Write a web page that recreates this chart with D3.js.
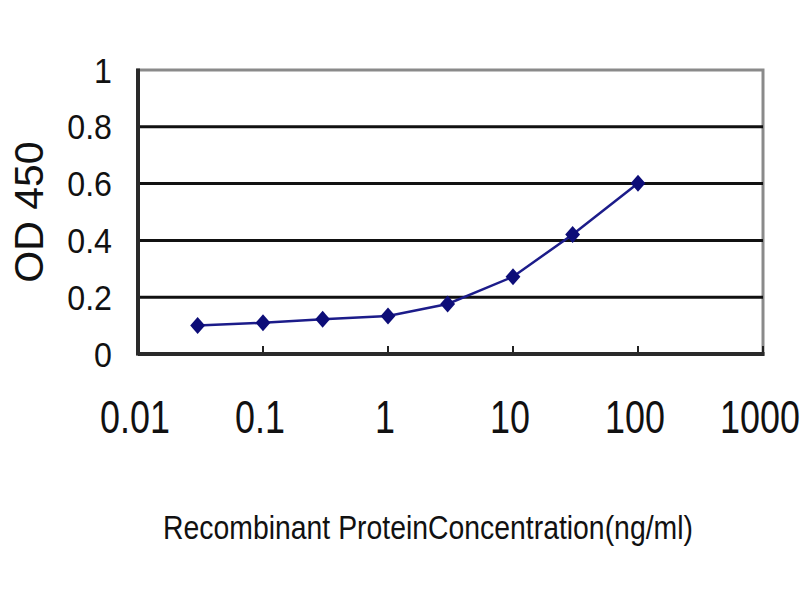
<!DOCTYPE html>
<html>
<head>
<meta charset="utf-8">
<script src="https://cdn.jsdelivr.net/npm/d3@7.9.0/dist/d3.min.js"></script>
<style>
  body { margin: 0; background: #fff; }
  text { font-family: 'Liberation Sans', Arial, sans-serif; fill: #111; }
</style>
</head>
<body>
<div id="chart"></div>
<script>
// concentration (ng/ml) and OD 450 readings
const concentrations = [0.03, 0.1, 0.3, 1, 3, 10, 30, 100];
const odValues = [0.10, 0.11, 0.122, 0.134, 0.176, 0.272, 0.421, 0.601];
const xTicks = [0.01, 0.1, 1, 10, 100, 1000];
const xTickLabels = ['0.01', '0.1', '1', '10', '100', '1000'];
const yTicks = [0, 0.2, 0.4, 0.6, 0.8, 1];
const yTickLabels = ['0', '0.2', '0.4', '0.6', '0.8', '1'];

const points = concentrations.map((c, i) => ({ conc: c, od: odValues[i] }));

function renderChart() {
  const width = 800;
  const height = 600;
  const margin = { top: 70, right: 37, bottom: 246, left: 138 };

  const usableArea = {
    top: margin.top,
    right: width - margin.right,
    bottom: height - margin.bottom,
    left: margin.left,
  };

  const svg = d3.select('#chart')
    .append('svg')
    .attr('width', width)
    .attr('height', height);

  const xScale = d3.scaleLog()
    .domain([0.01, 1000])
    .range([usableArea.left, usableArea.right]);

  const yScale = d3.scaleLinear()
    .domain([0, 1])
    .range([usableArea.bottom, usableArea.top]);

  // plot area border
  svg.append('rect')
    .attr('x', usableArea.left)
    .attr('y', usableArea.top)
    .attr('width', usableArea.right - usableArea.left)
    .attr('height', usableArea.bottom - usableArea.top)
    .attr('fill', 'none')
    .attr('stroke', '#8a8a8a')
    .attr('stroke-width', 3);

  // gridlines
  svg.append('g')
    .selectAll('line')
    .data(yTicks.filter(d => d > 0 && d < 1))
    .join('line')
    .attr('x1', usableArea.left)
    .attr('x2', usableArea.right)
    .attr('y1', d => yScale(d))
    .attr('y2', d => yScale(d))
    .attr('stroke', '#111')
    .attr('stroke-width', 3);

  // x ticks (pointing into the plot)
  svg.append('g')
    .selectAll('line')
    .data(xTicks)
    .join('line')
    .attr('x1', d => xScale(d))
    .attr('x2', d => xScale(d))
    .attr('y1', usableArea.bottom)
    .attr('y2', usableArea.bottom - 8)
    .attr('stroke', '#222')
    .attr('stroke-width', 2);

  // axes
  svg.append('line')
    .attr('x1', usableArea.left).attr('x2', usableArea.left)
    .attr('y1', usableArea.top - 1.5).attr('y2', usableArea.bottom + 1.5)
    .attr('stroke', '#2a2a2a').attr('stroke-width', 4);
  svg.append('line')
    .attr('x1', usableArea.left).attr('x2', usableArea.right + 1.5)
    .attr('y1', usableArea.bottom).attr('y2', usableArea.bottom)
    .attr('stroke', '#2a2a2a').attr('stroke-width', 4);

  // y tick labels
  svg.append('g')
    .selectAll('text')
    .data(yTicks)
    .join('text')
    .attr('transform', d => `translate(${usableArea.left - 26}, ${yScale(d)}) scale(0.92, 1)`)
    .attr('text-anchor', 'end')
    .attr('dy', '0.36em')
    .style('font-size', '35px')
    .text((d, i) => yTickLabels[i]);

  // x tick labels
  svg.append('g')
    .selectAll('text')
    .data(xTicks)
    .join('text')
    .attr('transform', d => `translate(${xScale(d) - 3}, ${usableArea.bottom + 62}) scale(0.78, 1)`)
    .attr('text-anchor', 'middle')
    .attr('dy', '0.36em')
    .style('font-size', '46px')
    .text((d, i) => xTickLabels[i]);

  // axis titles
  svg.append('text')
    .attr('transform', `translate(28, ${(usableArea.top + usableArea.bottom) / 2}) rotate(-90)`)
    .attr('text-anchor', 'middle')
    .attr('dy', '0.36em')
    .style('font-size', '41px')
    .text('OD 450');

  svg.append('text')
    .attr('transform', `translate(428, 527) scale(0.86, 1)`)
    .attr('text-anchor', 'middle')
    .attr('dy', '0.36em')
    .style('font-size', '33px')
    .text('Recombinant ProteinConcentration(ng/ml)');

  // series line
  const line = d3.line()
    .x(d => xScale(d.conc))
    .y(d => yScale(d.od));

  svg.append('path')
    .datum(points)
    .attr('d', line)
    .attr('fill', 'none')
    .attr('stroke', '#1c1c8a')
    .attr('stroke-width', 2.5);

  // diamond markers
  svg.append('g')
    .selectAll('path')
    .data(points)
    .join('path')
    .attr('transform', d => `translate(${xScale(d.conc)}, ${yScale(d.od)}) scale(1, 1.15)`)
    .attr('d', d3.symbol(d3.symbolDiamond2, 140))
    .attr('fill', '#0d0d78');
}

renderChart();
</script>
</body>
</html>
